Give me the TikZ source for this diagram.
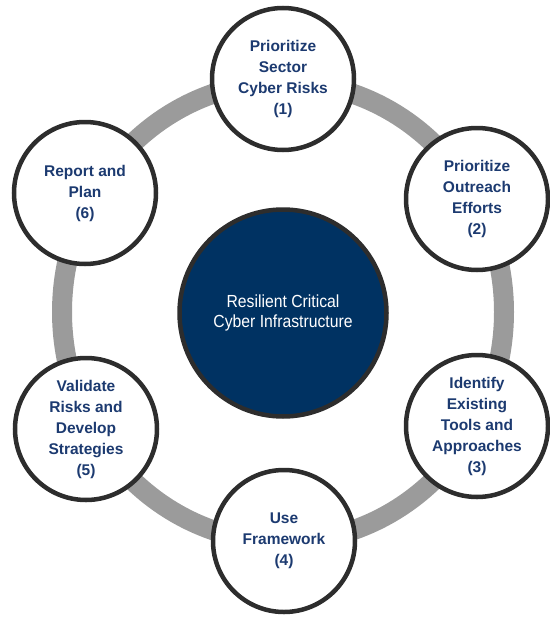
\documentclass[tikz,border=0pt]{standalone}
\usepackage{fontspec}
\setmainfont{Liberation Sans}
\newfontfamily\narrowfont[FakeStretch=0.9]{Liberation Sans}
\definecolor{ringgray}{RGB}{155,155,155}
\definecolor{edgegray}{RGB}{45,45,45}
\definecolor{navytext}{RGB}{28,58,112}
\definecolor{corefill}{RGB}{0,50,98}
\begin{document}
\begin{tikzpicture}[x=1pt,y=-1pt,
  stage/.style={circle, draw=edgegray, line width=4.5pt, fill=white,
    minimum size=142pt, inner sep=0pt, align=center, text=navytext,
    font=\fontsize{15.5}{21}\selectfont\bfseries},
  core/.style={circle, draw=edgegray, line width=4.5pt, fill=corefill,
    minimum size=207pt, inner sep=0pt, align=center, text=white,
    font=\narrowfont\fontsize{17.5}{20.5}\selectfont},
  ring/.style={draw=ringgray, line width=20pt}]
\useasboundingbox (0,0) rectangle (549,618);
\coordinate (ctr) at (283,312);
\draw[ring] (ctr) ellipse [x radius=221, y radius=230];
\node[core] (core) at (283,313) {Resilient Critical\\Cyber Infrastructure};
\node[stage] (c1) at (283,79) {Prioritize\\Sector\\Cyber Risks\\(1)};
\node[stage] (c2) at (477,199) {Prioritize\\Outreach\\Efforts\\(2)};
\node[stage] (c3) at (477,426) {Identify\\Existing\\Tools and\\Approaches\\(3)};
\node[stage] (c4) at (284,541) {Use\\Framework\\(4)};
\node[stage] (c5) at (86,429) {Validate\\Risks and\\Develop\\Strategies\\(5)};
\node[stage] (c6) at (85,193) {Report and\\Plan\\(6)};
\end{tikzpicture}
\end{document}
